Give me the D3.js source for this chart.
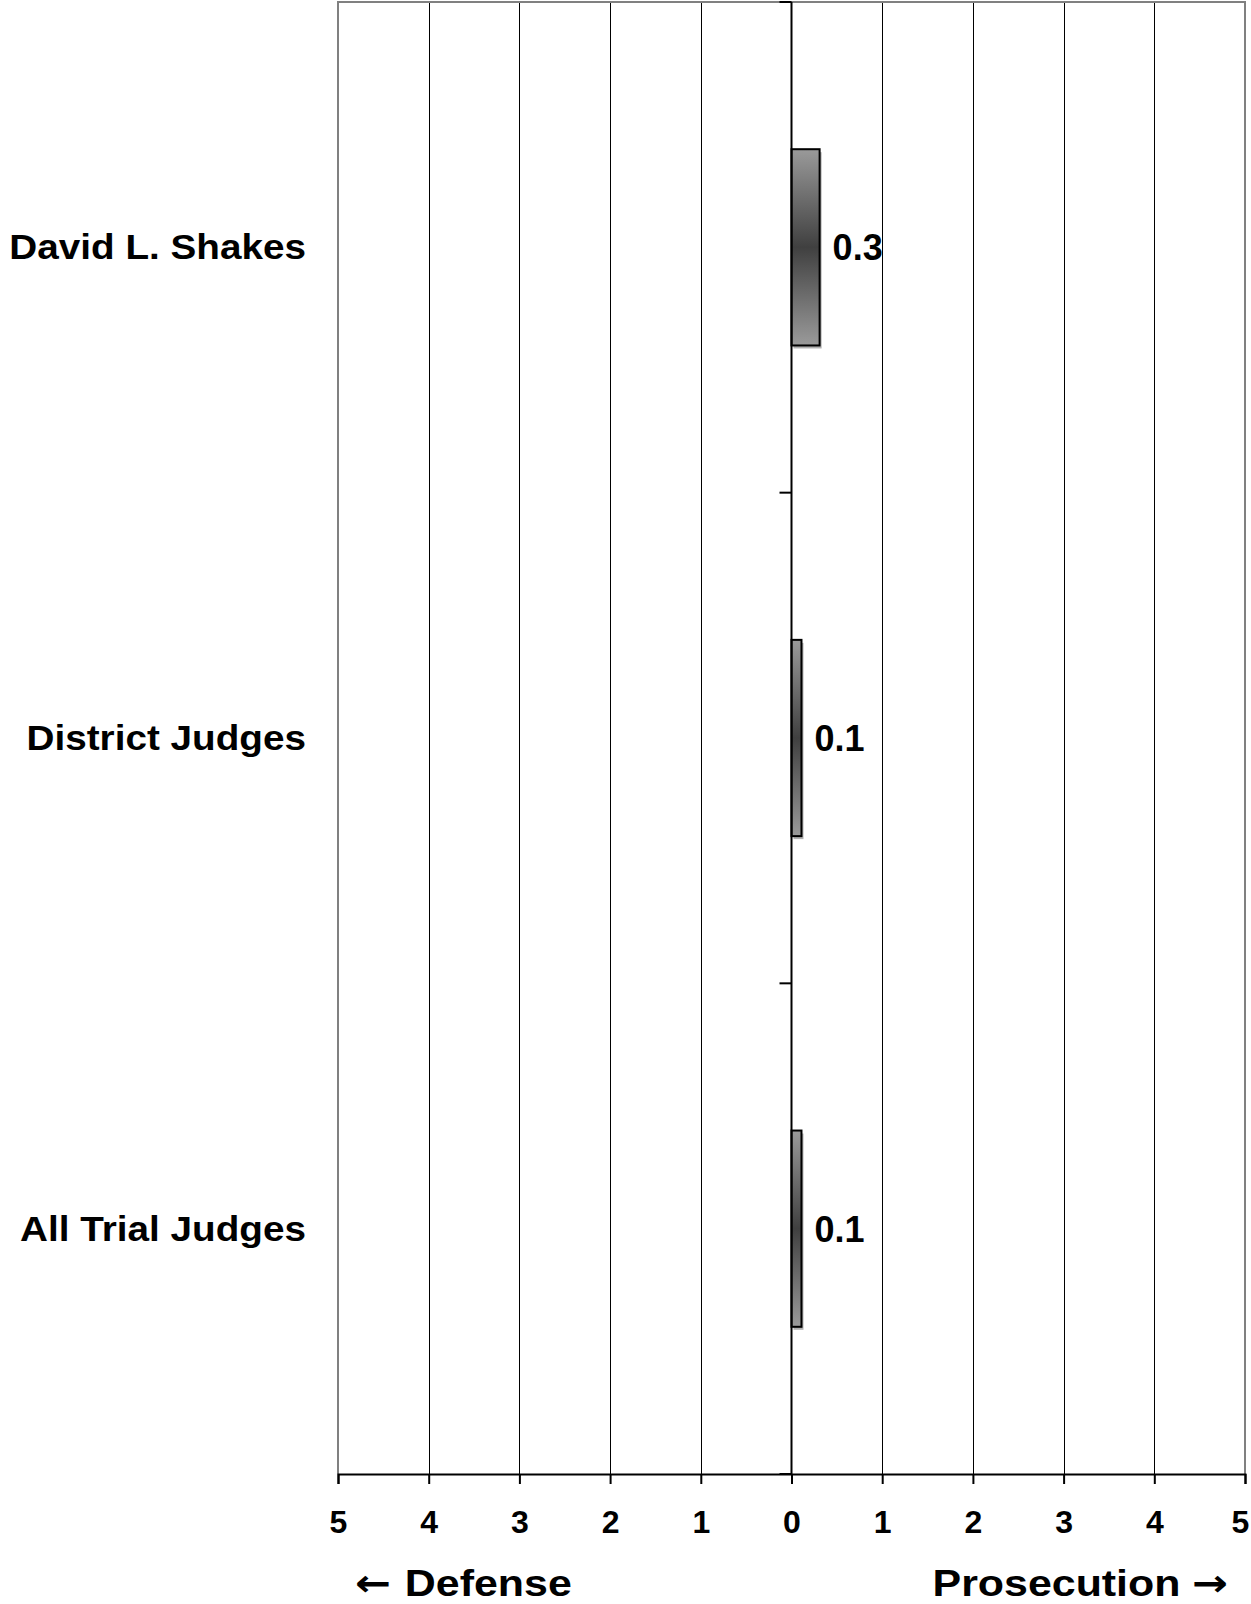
<!DOCTYPE html>
<html>
<head>
<meta charset="utf-8">
<script src="https://cdn.jsdelivr.net/npm/d3@7"></script>
<style>
  body { margin: 0; background: #fff; }
  text { font-family: Arial, "Liberation Sans", sans-serif; font-weight: bold; fill: #000; }
</style>
</head>
<body>
<script>
const judges = ["David L. Shakes", "District Judges", "All Trial Judges"];
const scores = [0.31, 0.11, 0.11];
const scoreLabels = ["0.3", "0.1", "0.1"];
const tickValues = [-5, -4, -3, -2, -1, 0, 1, 2, 3, 4, 5];

const width = 1251, height = 1604;
const margin = { top: 2, right: 6, bottom: 130, left: 338 };

const svg = d3.select("body").append("svg")
  .attr("width", width)
  .attr("height", height);

const x = d3.scaleLinear()
  .domain([-5, 5])
  .range([margin.left, width - margin.right]);

const y = d3.scaleBand()
  .domain(judges)
  .range([margin.top, height - margin.bottom])
  .paddingInner(0.6)
  .paddingOuter(0.3);

const px = v => Math.round(x(v)) + 0.5;

const grad = svg.append("defs").append("linearGradient")
  .attr("id", "barGrad")
  .attr("x1", 0).attr("y1", 0).attr("x2", 0).attr("y2", 1);
grad.append("stop").attr("offset", "0%").attr("stop-color", "#9a9a9a");
grad.append("stop").attr("offset", "50%").attr("stop-color", "#404040");
grad.append("stop").attr("offset", "100%").attr("stop-color", "#9a9a9a");

const [x0, x1] = x.range();
const [y0, y1] = y.range();

// vertical gridlines
svg.append("g")
  .selectAll("line")
  .data(tickValues.filter(d => Math.abs(d) !== 5 && d !== 0))
  .join("line")
  .attr("x1", d => px(d)).attr("x2", d => px(d))
  .attr("y1", y0).attr("y2", y1)
  .attr("stroke", "#000")
  .attr("stroke-width", 1)
  .attr("shape-rendering", "crispEdges");

// plot border (gray, left/top/right)
svg.append("path")
  .attr("d", `M${x0},${y1}V${y0}H${x1}V${y1}`)
  .attr("fill", "none")
  .attr("stroke", "#808080")
  .attr("stroke-width", 2);

// bars: soft shadow, then gradient bar
svg.append("g")
  .selectAll("rect")
  .data(judges)
  .join("rect")
  .attr("x", x(0) + 2)
  .attr("y", d => y(d) + 3)
  .attr("width", (d, i) => x(scores[i]) - x(0))
  .attr("height", y.bandwidth())
  .attr("fill", "#b0b0b0");

svg.append("g")
  .selectAll("rect")
  .data(judges)
  .join("rect")
  .attr("x", x(0))
  .attr("y", d => y(d))
  .attr("width", (d, i) => x(scores[i]) - x(0))
  .attr("height", y.bandwidth())
  .attr("fill", "url(#barGrad)")
  .attr("stroke", "#000")
  .attr("stroke-width", 2);

// zero axis with category ticks
svg.append("line")
  .attr("x1", x(0)).attr("x2", x(0))
  .attr("y1", y0).attr("y2", y1)
  .attr("stroke", "#000")
  .attr("stroke-width", 2);

const boundaries = d3.range(judges.length + 1).map(i => y0 + i * (y1 - y0) / judges.length);
svg.append("g")
  .selectAll("line")
  .data(boundaries)
  .join("line")
  .attr("x1", x(0) - 12).attr("x2", x(0))
  .attr("y1", d => d).attr("y2", d => d)
  .attr("stroke", "#000")
  .attr("stroke-width", 2);

// bottom axis
const axis = svg.append("g")
  .attr("transform", `translate(0,${y1})`)
  .call(d3.axisBottom(x).tickValues(tickValues).tickSize(10).tickFormat(d => Math.abs(d)));
axis.select(".domain").attr("stroke", "#000").attr("stroke-width", 2);
axis.selectAll(".tick line").attr("stroke", "#000").attr("stroke-width", 2);
axis.selectAll(".tick text")
  .attr("y", 59)
  .attr("dy", 0)
  .attr("dx", d => d === 5 ? -5 : 0)
  .style("font-size", "32px")
  .style("font-family", "Arial, 'Liberation Sans', sans-serif")
  .style("font-weight", "bold")
  .attr("fill", "#000");

// category labels
svg.append("g")
  .selectAll("text")
  .data(judges)
  .join("text")
  .attr("transform", d => `translate(306,${y(d) + y.bandwidth() / 2 + 12}) scale(1.075,1)`)
  .attr("text-anchor", "end")
  .style("font-size", "36px")
  .text(d => d);

// value labels
svg.append("g")
  .selectAll("text")
  .data(judges)
  .join("text")
  .attr("x", (d, i) => x(scores[i]) + 13)
  .attr("y", d => y(d) + y.bandwidth() / 2 + 13)
  .style("font-size", "36px")
  .text((d, i) => scoreLabels[i]);

// axis direction titles
const defense = svg.append("text")
  .attr("transform", `translate(355,${height - 8}) scale(1.16,1)`)
  .style("font-size", "37px");
defense.append("tspan").style("font-family", "'DejaVu Sans'").text("\u2190");
defense.append("tspan").attr("dx", 12).text("Defense");

const prosecution = svg.append("text")
  .attr("transform", `translate(1228,${height - 8}) scale(1.16,1)`)
  .attr("text-anchor", "end")
  .style("font-size", "37px");
prosecution.append("tspan").text("Prosecution");
prosecution.append("tspan").attr("dx", 10).style("font-family", "'DejaVu Sans'").text("\u2192");
</script>
</body>
</html>
